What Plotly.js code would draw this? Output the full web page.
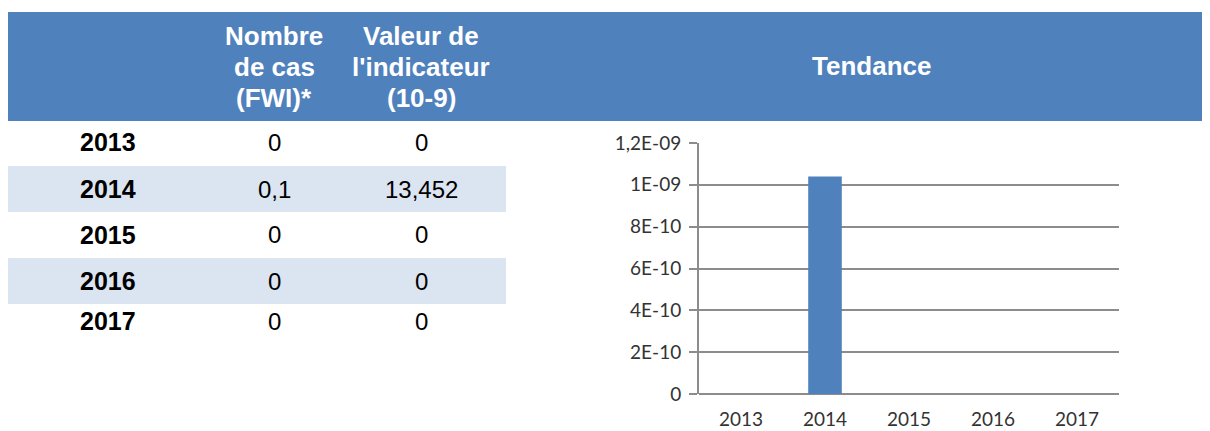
<!DOCTYPE html>
<html>
<head>
<meta charset="utf-8">
<script src="https://cdn.plot.ly/plotly-3.0.1.min.js"></script>
<style>
  html, body { margin: 0; padding: 0; background: #ffffff; }
  #chart { width: 1210px; height: 431px; }
</style>
</head>
<body>
<div id="chart"></div>
<script>
// ---- Data ----
const years = ['2013', '2014', '2015', '2016', '2017'];
const nombreCas = ['0', '0,1', '0', '0', '0'];
const valeurIndicateur = ['0', '13,452', '0', '0', '0'];
const tendance = [0, 1.04e-9, 0, 0, 0];
const yTickVals = [0, 2e-10, 4e-10, 6e-10, 8e-10, 1e-9, 1.2e-9];
const yTickText = ['0', '2E-10', '4E-10', '6E-10', '8E-10', '1E-09', '1,2E-09'];
const headerCas = ['Nombre', 'de cas', '(FWI)*'];
const headerVal = ['Valeur de', "l'indicateur", '(10-9)'];
const headerTrend = 'Tendance';

// ---- Layout helpers ----
const W = 1210, H = 431;
const px = x => x / W;
const py = y => 1 - y / H;

const BLUE = '#4F81BD';
const BAND = '#DBE5F1';

const shapes = [];
const annotations = [];

// header band
shapes.push({type: 'rect', xref: 'paper', yref: 'paper', x0: px(8), x1: px(1202), y0: py(121), y1: py(12),
  fillcolor: BLUE, line: {width: 0}, layer: 'below'});

// row positions
const rowCenters = [142, 189, 235, 281, 321];
const rowHalf = 23;
years.forEach((yr, i) => {
  if (i % 2 === 1) {
    shapes.push({type: 'rect', xref: 'paper', yref: 'paper', x0: px(8), x1: px(506),
      y0: py(rowCenters[i] + rowHalf), y1: py(rowCenters[i] - rowHalf),
      fillcolor: BAND, line: {width: 0}, layer: 'below'});
  }
});

const FAM = 'Liberation Sans, Arial, sans-serif';
const tableFont = {family: FAM, size: 24, color: '#000000'};
const boldFont = {family: FAM, size: 25, color: '#000000', weight: 'bold'};
const headFont = {family: FAM, size: 26, color: '#ffffff', weight: 'bold'};

function ann(text, x, y, font) {
  annotations.push({text: text, xref: 'paper', yref: 'paper', x: px(x), y: py(y),
    xanchor: 'center', yanchor: 'middle', showarrow: false, font: font});
}

const headLines = [36, 67, 98];
headerCas.forEach((t, i) => ann('<b>' + t + '</b>', 274, headLines[i], headFont));
headerVal.forEach((t, i) => ann('<b>' + t + '</b>', 421, headLines[i], headFont));
ann('<b>' + headerTrend + '</b>', 871, 66, headFont);

years.forEach((yr, i) => {
  ann('<b>' + yr + '</b>', 108, rowCenters[i], boldFont);
  ann(nombreCas[i], 274, rowCenters[i], tableFont);
  ann(valeurIndicateur[i], 421, rowCenters[i], tableFont);
});

const chartFont = {family: 'Lato, Open Sans, sans-serif', size: 19, color: '#333333'};

const trace = {
  type: 'bar',
  x: years,
  y: tendance,
  marker: {color: BLUE, line: {width: 0}},
  hoverinfo: 'skip'
};

const layout = {
  width: W, height: H,
  margin: {l: 0, r: 0, t: 0, b: 0},
  paper_bgcolor: '#ffffff',
  plot_bgcolor: 'rgba(0,0,0,0)',
  showlegend: false,
  bargap: 0.6,
  xaxis: {
    domain: [px(699), px(1119)],
    type: 'category',
    showgrid: false,
    showline: false,
    zeroline: false,
    ticks: '',
    tickfont: chartFont,
    ticklabelstandoff: 12,
    fixedrange: true
  },
  yaxis: {
    domain: [py(394), py(143)],
    range: [0, 1.2e-9],
    tickvals: yTickVals,
    ticktext: yTickText,
    showgrid: true,
    gridcolor: '#8c8c8c',
    gridwidth: 2,
    zeroline: true,
    zerolinecolor: '#8c8c8c',
    zerolinewidth: 2,
    showline: true,
    linecolor: '#8c8c8c',
    linewidth: 2,
    ticks: 'outside',
    ticklen: 8,
    tickcolor: '#8c8c8c',
    tickwidth: 2,
    tickfont: chartFont,
    ticklabelstandoff: 4,
    fixedrange: true
  },
  shapes: shapes,
  annotations: annotations
};

Plotly.newPlot('chart', [trace], layout, {displayModeBar: false, staticPlot: true});
</script>
</body>
</html>
